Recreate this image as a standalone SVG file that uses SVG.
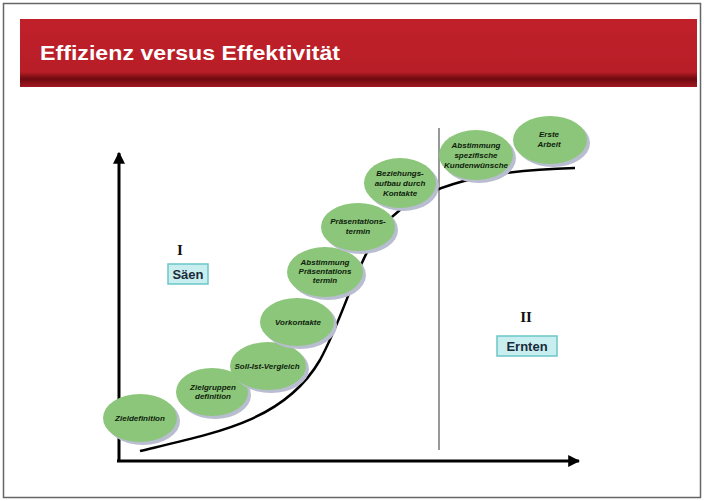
<svg xmlns="http://www.w3.org/2000/svg" width="704" height="501" viewBox="0 0 704 501">
<defs>
<linearGradient id="band" x1="0" y1="0" x2="0" y2="1">
<stop offset="0" stop-color="#c0202a"/>
<stop offset="0.78" stop-color="#b81e27"/>
<stop offset="0.88" stop-color="#6e0a10"/>
<stop offset="1" stop-color="#a31820"/>
</linearGradient>
<marker id="arr" viewBox="0 0 10 10" refX="9" refY="5" markerWidth="4" markerHeight="4" orient="auto" markerUnits="strokeWidth">
<path d="M0,0 L10,5 L0,10 z" fill="#000"/>
</marker>
</defs>
<style>
.el{fill:#8cc67a}
.sh{fill:#b9bdd0}
.lb{font-family:"Liberation Sans",Arial,sans-serif;font-size:8px;font-weight:bold;font-style:italic;fill:#0e1e0c;text-anchor:middle}
.tag{fill:#c8eef0;stroke:#6cc6c8;stroke-width:1.5}
.tt{font-family:"Liberation Sans",Arial,sans-serif;font-size:13px;font-weight:bold;fill:#1a2a3a;text-anchor:middle}
.rn{font-family:"Liberation Serif","Times New Roman",serif;font-size:15px;font-weight:bold;fill:#111;text-anchor:middle}
</style>
<rect x="0" y="0" width="704" height="501" fill="#fff"/>
<rect x="3.5" y="3.5" width="697" height="494" fill="none" stroke="#666" stroke-width="1.5"/>
<rect x="20" y="19" width="677" height="68" fill="url(#band)"/>
<text x="40" y="60" font-family="Liberation Sans,Arial,sans-serif" font-size="20" font-weight="bold" fill="#fff" textLength="300" lengthAdjust="spacingAndGlyphs">Effizienz versus Effektivität</text>

<g id="connectors">
<line x1="119" y1="461" x2="119" y2="153" stroke="#000" stroke-width="3" marker-end="url(#arr)"/>
<line x1="117" y1="461" x2="579" y2="461" stroke="#000" stroke-width="3" marker-end="url(#arr)"/>
<line x1="439" y1="128" x2="439" y2="450" stroke="#333" stroke-width="1"/>
<path d="M140,451 C220,432 285,420 320,360 C350,305 360,240 400,210 C440,180 500,170 575,168" fill="none" stroke="#000" stroke-width="2.5"/>
</g>

<g id="n1"><ellipse class="sh" cx="143" cy="421" rx="37" ry="24"/><ellipse class="el" cx="140" cy="418" rx="37" ry="24"/><text class="lb" x="140" y="421">Zieldefinition</text></g>
<g id="n2"><ellipse class="sh" cx="215" cy="395" rx="36" ry="24"/><ellipse class="el" cx="212" cy="392" rx="36" ry="24"/><text class="lb" x="213" y="390">Zielgruppen</text><text class="lb" x="213" y="399">definition</text></g>
<g id="n3"><ellipse class="sh" cx="271" cy="369" rx="38" ry="24"/><ellipse class="el" cx="268" cy="366" rx="38" ry="24"/><text class="lb" x="267" y="369">Soll-Ist-Vergleich</text></g>
<g id="n4"><ellipse class="sh" cx="300" cy="325" rx="37" ry="24"/><ellipse class="el" cx="297" cy="322" rx="37" ry="24"/><text class="lb" x="298" y="325">Vorkontakte</text></g>
<g id="n5"><ellipse class="sh" cx="328" cy="275" rx="38" ry="25"/><ellipse class="el" cx="325" cy="272" rx="38" ry="25"/><text class="lb" x="325" y="265">Abstimmung</text><text class="lb" x="325" y="274">Präsentations</text><text class="lb" x="325" y="283">termin</text></g>
<g id="n6"><ellipse class="sh" cx="361" cy="230" rx="37" ry="24"/><ellipse class="el" cx="358" cy="227" rx="37" ry="24"/><text class="lb" x="358" y="224">Präsentations-</text><text class="lb" x="358" y="234">termin</text></g>
<g id="n7"><ellipse class="sh" cx="403" cy="186" rx="36" ry="25"/><ellipse class="el" cx="400" cy="183" rx="36" ry="25"/><text class="lb" x="400" y="176">Beziehungs-</text><text class="lb" x="400" y="186">aufbau durch</text><text class="lb" x="400" y="196">Kontakte</text></g>
<g id="n8"><ellipse class="sh" cx="479" cy="158" rx="37" ry="25"/><ellipse class="el" cx="476" cy="155" rx="37" ry="25"/><text class="lb" x="476" y="148">Abstimmung</text><text class="lb" x="476" y="158">spezifische</text><text class="lb" x="476" y="168">Kundenwünsche</text></g>
<g id="n9"><ellipse class="sh" cx="553" cy="143" rx="37" ry="24"/><ellipse class="el" cx="550" cy="140" rx="37" ry="24"/><text class="lb" x="549" y="137">Erste</text><text class="lb" x="549" y="147">Arbeit</text></g>

<g id="phase1"><text class="rn" x="180" y="255">I</text><rect class="tag" x="168" y="264" width="40" height="20"/><text class="tt" x="188" y="279">Säen</text></g>
<g id="phase2"><text class="rn" x="526" y="322">II</text><rect class="tag" x="497" y="336" width="60" height="20"/><text class="tt" x="527" y="351">Ernten</text></g>
</svg>
